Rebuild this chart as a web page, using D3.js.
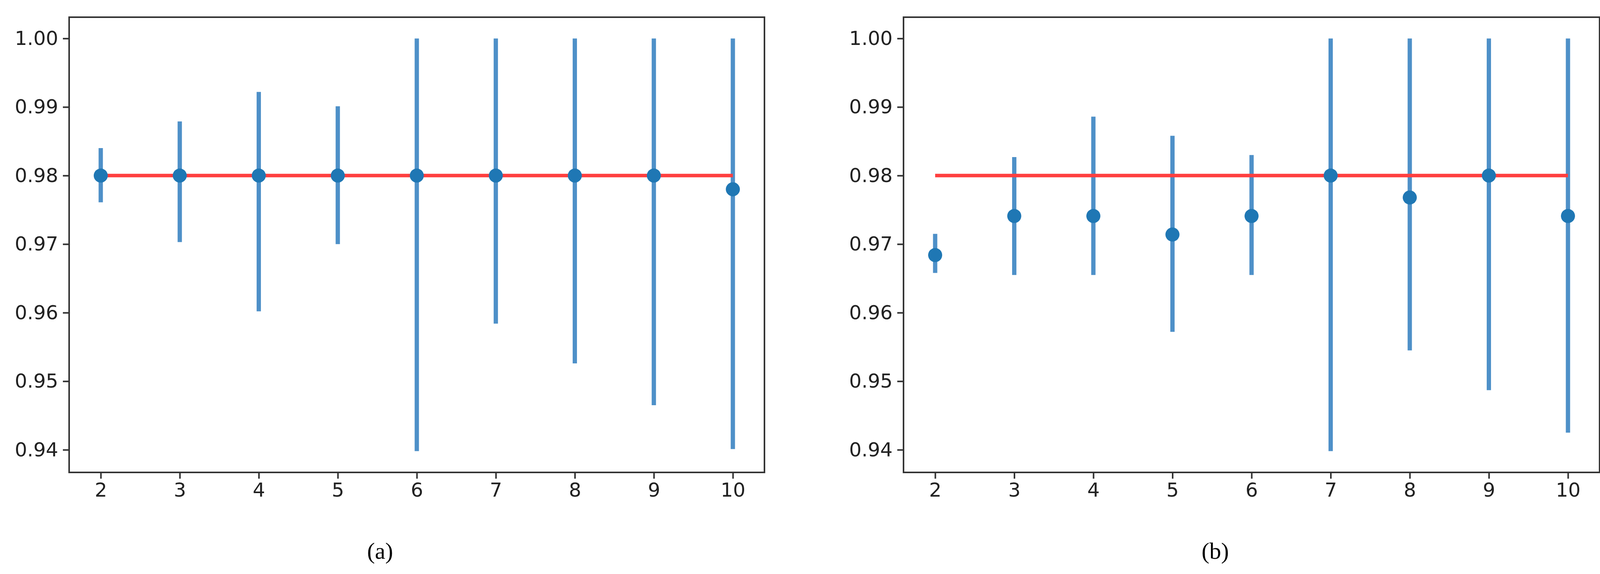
<!DOCTYPE html>
<html>
<head>
<meta charset="utf-8">
<script src="https://cdn.jsdelivr.net/npm/d3@7"></script>
<style>
  body { margin: 0; background: #fff; }
  svg { display: block; }
</style>
</head>
<body>
<svg id="chart" width="4124" height="1469" viewBox="0 0 4124 1469"></svg>
<script>
const kValues = [2, 3, 4, 5, 6, 7, 8, 9, 10];
const yTicks = [0.94, 0.95, 0.96, 0.97, 0.98, 0.99, 1.00];
const targetLevel = 0.98;

// panel (a)
const meanA = [0.980, 0.980, 0.980, 0.980, 0.980, 0.980, 0.980, 0.980, 0.978];
const upperA = [0.9840, 0.9879, 0.9922, 0.9901, 1.0, 1.0, 1.0, 1.0, 1.0];
const lowerA = [0.9761, 0.9703, 0.9602, 0.9700, 0.9398, 0.9584, 0.9526, 0.9465, 0.9401];

// panel (b)
const meanB = [0.9684, 0.9741, 0.9741, 0.9714, 0.9741, 0.980, 0.9768, 0.980, 0.9741];
const upperB = [0.9715, 0.9827, 0.9886, 0.9858, 0.9830, 1.0, 1.0, 1.0, 1.0];
const lowerB = [0.9658, 0.9655, 0.9655, 0.9572, 0.9655, 0.9398, 0.9545, 0.9487, 0.9425];

const svg = d3.select("#chart");

function panel(left, right, caption, captionX, mean, upper, lower) {
    const top = 44, bottom = 1209;
    const x = d3.scaleLinear().domain([1.6, 10.4]).range([left, right]);
    const y = d3.scaleLinear().domain([0.9367, 1.0031]).range([bottom, top]);

    const g = svg.append("g");

    const rows = kValues.map((k, i) => ({k: k, m: mean[i], hi: upper[i], lo: lower[i]}));

    g.selectAll(".err")
        .data(rows)
        .enter()
        .append("line")
        .attr("x1", d => x(d.k))
        .attr("x2", d => x(d.k))
        .attr("y1", d => y(d.lo))
        .attr("y2", d => y(d.hi))
        .style("stroke", "#4e90c8")
        .style("stroke-width", 11);

    g.append("line")
        .attr("x1", x(kValues[0]))
        .attr("x2", x(kValues[kValues.length - 1]))
        .attr("y1", y(targetLevel))
        .attr("y2", y(targetLevel))
        .style("stroke", "#ff3f3f")
        .style("stroke-width", 9);

    g.selectAll(".dot")
        .data(rows)
        .enter()
        .append("circle")
        .attr("cx", d => x(d.k))
        .attr("cy", d => y(d.m))
        .attr("r", 18)
        .attr("fill", "#1f77b4");

    const yAxis = g.append("g")
        .attr("transform", `translate(${left},0)`)
        .call(d3.axisLeft(y).tickValues(yTicks).tickFormat(d3.format(".2f")).tickSize(16).tickPadding(12));
    const xAxis = g.append("g")
        .attr("transform", `translate(0,${bottom})`)
        .call(d3.axisBottom(x).tickValues(kValues).tickFormat(d3.format("d")).tickSize(16).tickPadding(10));

    [yAxis, xAxis].forEach(a => {
        a.select(".domain").remove();
        a.selectAll(".tick line").style("stroke", "#333").style("stroke-width", 4);
        a.selectAll("text")
            .style("font-family", "DejaVu Sans")
            .style("font-size", "50px")
            .style("fill", "#222");
    });

    g.append("rect")
        .attr("x", left)
        .attr("y", top)
        .attr("width", right - left)
        .attr("height", bottom - top)
        .attr("fill", "none")
        .style("stroke", "#333")
        .style("stroke-width", 4);

    svg.append("text")
        .attr("x", captionX)
        .attr("y", 1430)
        .attr("text-anchor", "middle")
        .style("font-family", "Liberation Serif")
        .style("font-size", "60px")
        .text(caption);
}

panel(177, 1957, "(a)", 973, meanA, upperA, lowerA);
panel(2313, 4095, "(b)", 3111, meanB, upperB, lowerB);
</script>
</body>
</html>
